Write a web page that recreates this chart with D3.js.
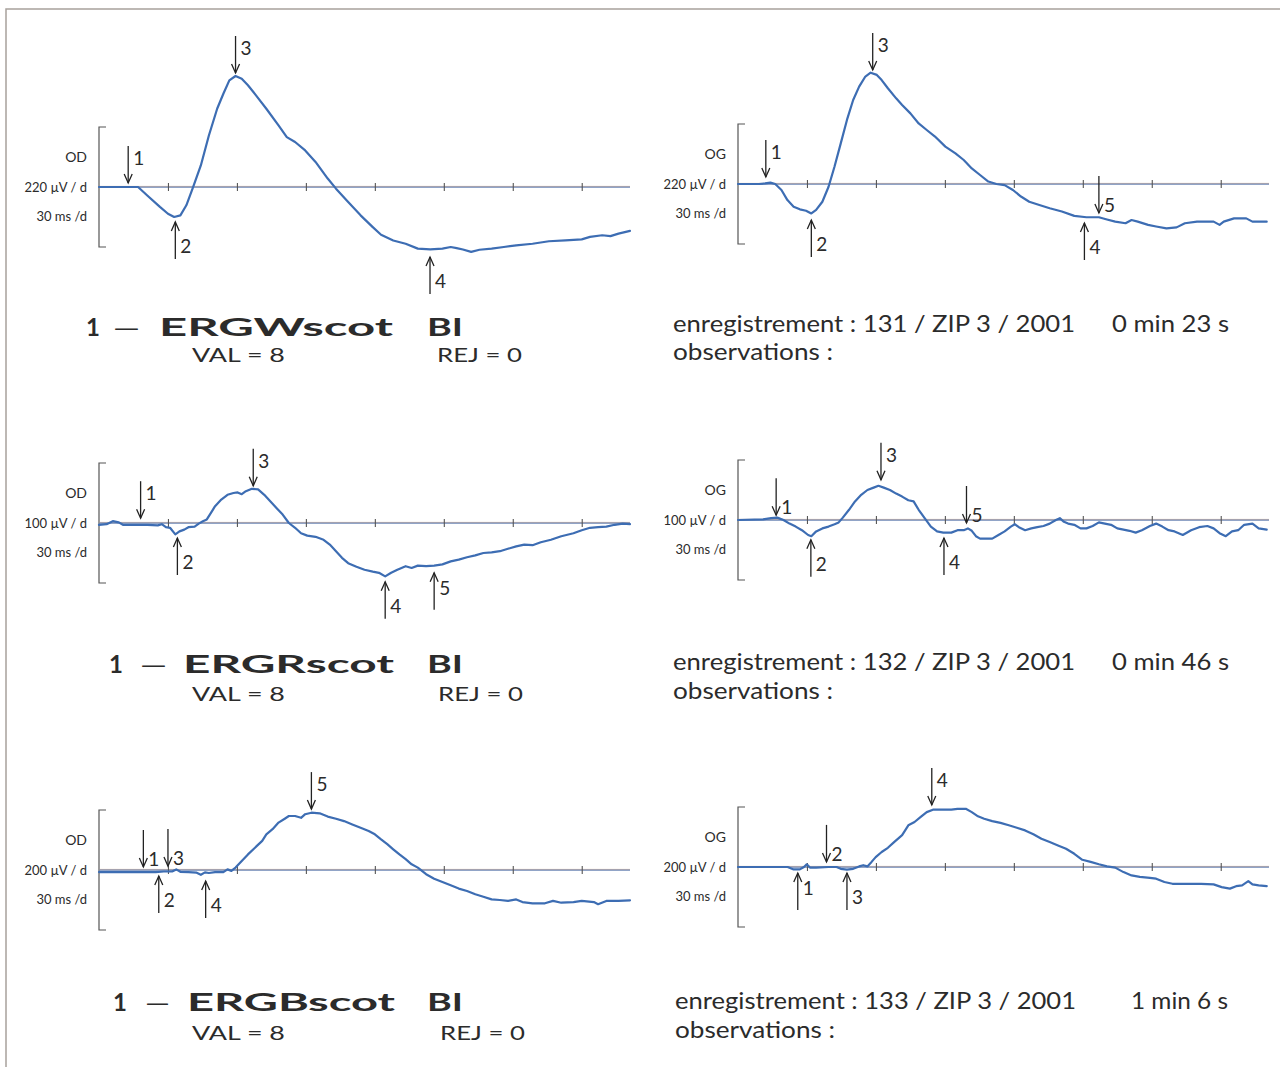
<!DOCTYPE html>
<html>
<head>
<meta charset="utf-8">
<script src="https://cdn.jsdelivr.net/npm/d3@7"></script>
<style>
  body { margin: 0; background: #fff; }
  svg { display: block; }
</style>
</head>
<body>
<div id="root"></div>
<script>
// ERG traces, [ms, µV]
const odWhite = [[0,0],[17,0],[21,-31],[26.5,-73],[30,-98],[32.7,-110],[35.4,-104],[38,-67],[40.7,-6],[44.3,79],[47.8,189],[51.4,287],[54.1,342],[56.7,391],[59.4,407],[62.1,397],[64.8,373],[68.3,336],[72.8,287],[78.1,226],[81.7,183],[85.3,165],[89.7,134],[94.2,92],[99.5,31],[103.1,-6],[108.4,-55],[113.8,-104],[119.1,-147],[122.7,-175],[128,-196],[133.4,-208],[138.7,-226],[144.1,-229],[149.4,-226],[153,-220],[155.6,-224],[158.3,-229],[161.9,-238],[165.5,-230],[170.8,-226],[176.1,-220],[181.5,-214],[188.6,-208],[195.7,-199],[202.9,-196],[210,-192],[213.6,-183],[218.9,-177],[222.5,-180],[226,-171],[231,-161]];
const ogWhite = [[0,0],[9.1,0],[11.8,2],[14.1,5],[16.2,0],[18.9,-22],[21.5,-59],[24.2,-83],[26.9,-93],[29.6,-98],[31.9,-108],[34,-95],[36.7,-65],[39.4,-10],[42,64],[44.7,149],[47.4,235],[50.1,308],[52.7,357],[55.4,394],[57.7,408],[60.4,400],[62.5,381],[65.2,351],[68.8,314],[71.4,290],[75,259],[78.6,222],[82.1,198],[85.7,174],[90.2,137],[94.6,112],[98.2,88],[101.7,57],[105.3,33],[108.9,9],[112.4,0],[116,-4],[119.6,-22],[123.1,-46],[126.7,-65],[131.1,-77],[135.6,-89],[140.9,-101],[146.3,-117],[151.6,-122],[157,-122],[160.5,-130],[164.1,-138],[168.6,-144],[171.2,-132],[173.9,-138],[178.4,-150],[181.9,-156],[186.4,-163],[190.8,-159],[194.4,-144],[199.7,-138],[206.9,-138],[209.5,-150],[211.3,-138],[215.8,-126],[221.1,-126],[223.8,-138],[230,-138]];
const odRed = [[0,-3],[3.3,-2],[6,3],[8.6,1],[10.4,-3],[15.8,-3],[21.1,-3],[25.6,-4],[27.3,-2],[29.1,-7],[30.9,-8],[33.2,-19],[35,-14],[37.1,-11],[38.9,-7],[41.6,-6],[43.4,-1],[45.2,3],[46.9,6],[48.7,17],[50.5,28],[53.2,39],[55.9,47],[58.5,50],[60.3,51],[62.1,48],[63.9,53],[66.5,57],[69.2,56],[71.9,47],[74.6,36],[77.2,25],[79.9,14],[82.6,0],[85.3,-8],[87.9,-17],[90.6,-21],[94.2,-23],[97.7,-28],[100.4,-36],[103.1,-47],[105.7,-58],[108.4,-67],[112,-73],[115.5,-78],[119.1,-81],[121.8,-83],[124.5,-89],[127.1,-83],[129.8,-78],[133.4,-72],[136,-75],[138.7,-71],[142.3,-72],[145.8,-71],[149.4,-69],[153,-64],[156.5,-61],[160.1,-57],[163.7,-54],[167.2,-50],[170.8,-49],[174.4,-47],[177.9,-43],[181.5,-39],[185,-36],[188.6,-37],[192.2,-32],[196.6,-28],[201.1,-22],[206.4,-17],[210,-12],[213.6,-8],[217.1,-7],[220.7,-6],[224.3,-3],[227.8,-1],[231,-2]];
const ogRed = [[0,0],[10.9,1],[14.4,3],[17.1,4],[19.8,0],[22.4,-6],[25.1,-11],[27.8,-17],[30.5,-25],[31.9,-27],[34,-19],[36.7,-14],[39.4,-11],[42,-7],[43.8,-4],[45.6,4],[48.3,17],[50.9,31],[53.6,42],[56.3,50],[59,54],[61.1,57],[63.4,54],[66.1,50],[68.8,44],[71.4,39],[74.1,33],[76.4,31],[78.6,17],[81.2,3],[83.9,-11],[86.6,-19],[89.3,-21],[92.8,-21],[95.5,-17],[98.2,-17],[100,-14],[101.7,-18],[103.5,-27],[105.3,-31],[108,-31],[110.6,-31],[113.3,-25],[116,-19],[118.7,-11],[120.4,-7],[122.2,-12],[124.9,-17],[127.6,-14],[130.2,-12],[132.9,-10],[135.6,-6],[138.3,0],[140,3],[141.8,-3],[143.6,-6],[146.3,-8],[149,-14],[151.6,-14],[154.3,-10],[157,-4],[159.6,-6],[162.3,-8],[165,-14],[167.7,-16],[170.3,-18],[173,-21],[175.7,-17],[179.2,-10],[181.9,-6],[184.6,-11],[187.3,-17],[189.9,-19],[193.5,-25],[197.1,-17],[200.6,-12],[204.2,-10],[206.9,-14],[209.5,-22],[212.2,-27],[214.9,-19],[217.6,-17],[220.2,-8],[223.8,-6],[226.5,-14],[230,-16]];
const odBlue = [[0,-7],[10.4,-7],[19.3,-7],[24.7,-7],[28.2,-5],[31.8,-5],[33.6,2],[35.4,-6],[38.9,-7],[42.5,-9],[44.3,-16],[46.1,-8],[47.8,-10],[50.5,-7],[54.1,-7],[55.9,2],[57.6,-3],[59.4,8],[62.1,30],[64.8,52],[67.4,71],[71,97],[72.8,119],[75.5,136],[78.1,158],[80.8,171],[82.6,180],[85.3,180],[87.9,174],[89.7,186],[92.4,191],[96,189],[99.5,178],[103.1,171],[106.6,163],[110.2,152],[113.8,141],[117.3,130],[120,119],[122.7,102],[125.4,86],[128,69],[130.7,52],[133.4,36],[136,19],[138.7,8],[142.3,-14],[145.8,-29],[149.4,-40],[153,-51],[156.5,-62],[160.1,-70],[163.7,-81],[167.2,-89],[170.8,-98],[174.4,-100],[177.9,-103],[181.5,-98],[184.2,-107],[188.6,-111],[194,-111],[197.5,-103],[201.1,-109],[206.4,-107],[210,-103],[215.3,-107],[217.1,-114],[220.7,-103],[226,-103],[231,-101]];
const ogBlue = [[0,0],[10.9,0],[21.6,0],[24.2,-8],[26.9,-8],[28.7,0],[29.9,9],[31.3,-2],[34,-2],[39.4,0],[42.9,0],[44.7,-6],[47.4,-9],[50.1,-6],[52.7,2],[54.5,6],[56.3,2],[58.1,17],[59.9,33],[62.5,50],[65.2,64],[67.9,83],[71.4,106],[74.1,139],[76.8,150],[79.5,167],[82.1,183],[84.8,191],[89.3,191],[92.8,191],[95.5,194],[99.1,194],[101.7,183],[104.4,169],[107.1,161],[110.6,153],[114.2,147],[117.8,139],[121.3,131],[124.9,122],[128.5,109],[132,94],[135.6,83],[139.2,72],[142.7,61],[146.3,44],[149.8,24],[153.4,17],[157,9],[160.5,2],[164.1,-2],[167.7,-17],[171.2,-28],[174.8,-33],[179.2,-36],[181.9,-39],[185.5,-50],[189,-56],[194.4,-56],[201.5,-56],[206.9,-58],[210.4,-67],[214,-72],[216.7,-64],[219.3,-61],[222,-47],[223.8,-58],[226.5,-61],[230,-64]];

// wave markers: [ms, µV at arrow tip, direction, label]
const odWhiteMarks = [[12.7,15,"down","1"],[33.2,-128,"up","2"],[59.4,418,"down","3"],[144,-257,"up","4"]];
const ogWhiteMarks = [[12.1,26,"down","1"],[31.9,-132,"up","2"],[58.6,418,"down","3"],[150.7,-143,"up","4"],[157,-106,"down","5"]];
const odRedMarks = [[18.1,8,"down","1"],[34.1,-25,"up","2"],[67.1,62,"down","3"],[124.5,-98,"up","4"],[145.8,-83,"up","5"]];
const ogRedMarks = [[16.6,8,"down","1"],[31.7,-33,"up","2"],[62.2,67,"down","3"],[89.6,-30,"up","4"],[99.4,-5,"down","5"]];
const odBlueMarks = [[19.3,10,"down","1"],[26,-20,"up","2"],[30,13,"down","3"],[46.4,-37,"up","4"],[92.4,203,"down","5"]];
const ogBlueMarks = [[26,-20,"up","1"],[38.5,17,"down","2"],[47.4,-20,"up","3"],[84.3,207,"down","4"]];

const uvPerDiv = [220, 100, 200];
const msPerDiv = 30;
const tickMs = [30, 60, 90, 120, 150, 180, 210];
const protocols = ["ERGWscot", "ERGRscot", "ERGBscot"];
const recordNums = ["131", "132", "133"];
const durations = ["0 min 23 s", "0 min 46 s", "1 min 6 s"];
const valCount = 8, rejCount = 0;

const W = 1280, H = 1067;
const INK = "#2b2b2b", TRACE = "#3d6db3";
const FONT = "Lato, 'Open Sans', sans-serif";

const svg = d3.select("#root").append("svg").attr("width", W).attr("height", H);
svg.append("rect").attr("width", W).attr("height", H).attr("fill", "#fff");

// scan border
svg.append("path").attr("d", `M6,${H} V9 H${W}`)
  .attr("fill", "none").attr("stroke", "#a8a19c").attr("stroke-width", 1.5);

const panels = [
  { eye: "OD", x0: 99, y0: 187, uv: uvPerDiv[0], trace: odWhite, marks: odWhiteMarks, tipLabels: [] },
  { eye: "OG", x0: 738, y0: 184, uv: uvPerDiv[0], trace: ogWhite, marks: ogWhiteMarks, tipLabels: ["5"] },
  { eye: "OD", x0: 99, y0: 523, uv: uvPerDiv[1], trace: odRed, marks: odRedMarks, tipLabels: ["5"] },
  { eye: "OG", x0: 738, y0: 520, uv: uvPerDiv[1], trace: ogRed, marks: ogRedMarks, tipLabels: ["1", "5"] },
  { eye: "OD", x0: 99, y0: 870, uv: uvPerDiv[2], trace: odBlue, marks: odBlueMarks, tipLabels: ["1", "3"] },
  { eye: "OG", x0: 738, y0: 867, uv: uvPerDiv[2], trace: ogBlue, marks: ogBlueMarks, tipLabels: ["1", "2"] },
];

function drawPanel(p) {
  const x = d3.scaleLinear().domain([0, 231]).range([p.x0, p.x0 + 531]);
  const y = d3.scaleLinear().domain([-p.uv, p.uv]).range([p.y0 + 60, p.y0 - 60]);
  const g = svg.append("g");

  // calibration bracket
  g.append("path")
    .attr("d", `M${x(0) + 7},${y(p.uv)} H${x(0)} V${y(-p.uv)} H${x(0) + 7}`)
    .attr("fill", "none").attr("stroke", "#555").attr("stroke-width", 1.2);

  // baseline (slightly misregistered print)
  g.append("line").attr("x1", x(0)).attr("x2", x(231)).attr("y1", y(0)).attr("y2", y(0))
    .attr("stroke", "#6d86b4").attr("stroke-width", 1.4);
  g.append("line").attr("x1", x(0)).attr("x2", x(231)).attr("y1", y(0) - 0.7).attr("y2", y(0) - 0.7)
    .attr("stroke", "#d3a074").attr("stroke-opacity", 0.45).attr("stroke-width", 0.8);

  const axis = d3.axisBottom(x).tickValues(tickMs).tickSize(8).tickFormat("");
  const ax = g.append("g").attr("transform", `translate(0,${y(0) - 4})`).call(axis);
  ax.select(".domain").remove();
  ax.selectAll("line").attr("stroke", "#555").attr("stroke-width", 1.1);

  const line = d3.line().x(d => x(d[0])).y(d => y(d[1])).curve(d3.curveLinear);
  g.append("path").attr("d", line(p.trace))
    .attr("fill", "none").attr("stroke", TRACE).attr("stroke-width", 2.2)
    .attr("stroke-linejoin", "round").attr("stroke-linecap", "round");

  // side labels
  const lx = x(0) - 12;
  const side = g.append("g").attr("font-family", FONT).attr("fill", INK).attr("text-anchor", "end");
  side.append("text").attr("x", lx).attr("y", y(0) - 25).attr("font-size", 14).text(p.eye);
  side.append("text").attr("x", lx).attr("y", y(0) + 5).attr("font-size", 13).text(`${p.uv} µV / d`);
  side.append("text").attr("x", lx).attr("y", y(0) + 34).attr("font-size", 13).text(`${msPerDiv} ms /d`);

  // wave markers
  const len = 37;
  p.marks.forEach(([t, v, dir, lab]) => {
    const ax0 = x(t), tip = y(v);
    const s = dir === "down" ? -1 : 1;
    const tail = tip + s * len;
    g.append("line").attr("x1", ax0).attr("x2", ax0).attr("y1", tail).attr("y2", tip)
      .attr("stroke", "#222").attr("stroke-width", 1.3);
    g.append("path").attr("d", `M${ax0 - 4},${tip + s * 9} L${ax0},${tip} L${ax0 + 4},${tip + s * 9}`)
      .attr("fill", "none").attr("stroke", "#222").attr("stroke-width", 1.3);
    const nearTip = p.tipLabels.includes(lab);
    let cy;
    if (dir === "down") cy = nearTip ? tip - 8 : tail + 12;
    else cy = nearTip ? tip + 15 : tail - 13;
    g.append("text").attr("x", ax0 + 5).attr("y", cy + 7)
      .attr("font-family", FONT).attr("font-size", 19).attr("fill", INK).text(lab);
  });
}

panels.forEach(drawPanel);

// caption blocks
const rows = [
  { tb: 336, vb: 362, rb: 332, ob: 360, one: 86, dash: [113, 27], name: [159, 234], rej: 437, enr: [673, 402], dur: [1112, 117] },
  { tb: 673, vb: 701, rb: 670, ob: 699, one: 109, dash: [140, 27], name: [183, 211], rej: 438, enr: [673, 402], dur: [1112, 117] },
  { tb: 1011, vb: 1040, rb: 1009, ob: 1038, one: 113, dash: [145, 25], name: [187, 208], rej: 440, enr: [675, 401], dur: [1131, 97] },
];

rows.forEach((r, i) => {
  const c = svg.append("g").attr("font-family", FONT).attr("fill", INK);
  c.append("text").attr("x", r.one).attr("y", r.tb).attr("font-size", 24).attr("font-weight", 700).text("1");
  c.append("text").attr("x", r.dash[0]).attr("y", r.tb).attr("font-size", 24)
    .attr("textLength", r.dash[1]).attr("lengthAdjust", "spacingAndGlyphs").text("—");
  c.append("text").attr("x", r.name[0]).attr("y", r.tb).attr("font-size", 25).attr("font-weight", 700)
    .attr("textLength", r.name[1]).attr("lengthAdjust", "spacingAndGlyphs").text(protocols[i]);
  c.append("text").attr("x", 427).attr("y", r.tb).attr("font-size", 25).attr("font-weight", 700)
    .attr("textLength", 36).attr("lengthAdjust", "spacingAndGlyphs").text("BI");
  c.append("text").attr("x", 192).attr("y", r.vb).attr("font-size", 20)
    .attr("textLength", 93).attr("lengthAdjust", "spacingAndGlyphs").text(`VAL = ${valCount}`);
  c.append("text").attr("x", r.rej).attr("y", r.vb).attr("font-size", 20)
    .attr("textLength", 85).attr("lengthAdjust", "spacingAndGlyphs").text(`REJ = ${rejCount}`);

  c.append("text").attr("x", r.enr[0]).attr("y", r.rb).attr("font-size", 23)
    .attr("textLength", r.enr[1]).attr("lengthAdjust", "spacingAndGlyphs")
    .text(`enregistrement : ${recordNums[i]} / ZIP  3 / 2001`);
  c.append("text").attr("x", r.dur[0]).attr("y", r.rb).attr("font-size", 23)
    .attr("textLength", r.dur[1]).attr("lengthAdjust", "spacingAndGlyphs").text(durations[i]);
  c.append("text").attr("x", r.enr[0]).attr("y", r.ob).attr("font-size", 23)
    .attr("textLength", 160).attr("lengthAdjust", "spacingAndGlyphs").text("observations :");
});
</script>
</body>
</html>
